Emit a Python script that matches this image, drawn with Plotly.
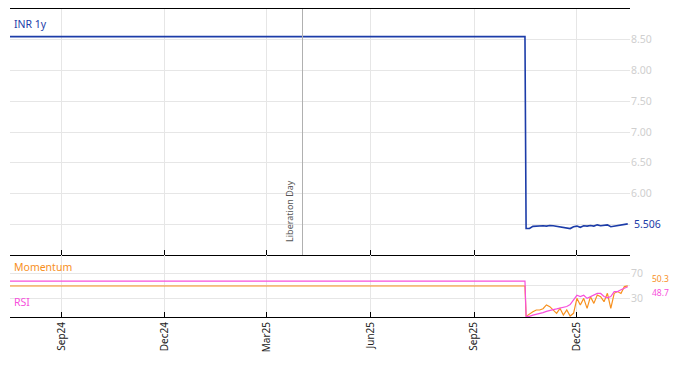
import plotly.graph_objects as go
from plotly.subplots import make_subplots
import pandas as pd

# ---- data ----
flat_dates = ["2024-07-17", "2025-10-16"]
inr_flat = [8.55, 8.55]
rsi_flat = [58, 58]
mom_flat = [50, 50]

post_dates = [d.strftime("%Y-%m-%d") for d in pd.date_range("2025-10-17", periods=31, freq="3D")]
inr_post = [5.43, 5.43, 5.465, 5.47, 5.47, 5.475, 5.47, 5.48, 5.475, 5.465, 5.46,
            5.455, 5.44, 5.43, 5.46, 5.47, 5.45, 5.475, 5.47, 5.48, 5.47, 5.49,
            5.475, 5.485, 5.49, 5.46, 5.47, 5.48, 5.485, 5.495, 5.506]
rsi_post = [1, 1, 3, 4, 6, 7, 9, 11, 12, 13, 14, 16, 17, 20, 27, 35, 33, 35, 30, 33,
            36, 38, 38, 33, 31, 33, 41, 41, 44, 46, 48.7]
mom_post = [1, 5, 8.6, 11.3, 11.3, 13.4, 19.4, 16.7, 11.3, 5.9, 14, 3.2, 11.3, 1.6,
            5.9, 30, 19.4, 30, 14, 32.8, 22, 35.5, 32.8, 24.7, 38.2, 14, 38.2, 41,
            38, 49, 50.3]

dates = flat_dates + post_dates
inr = inr_flat + inr_post
rsi = rsi_flat + rsi_post
mom = mom_flat + mom_post

event_date = "2025-04-02"
event_label = "Liberation Day"
main_ticks = [5.5, 6.0, 6.5, 7.0, 7.5, 8.0, 8.5]
main_ticktext = ["", "6.00", "6.50", "7.00", "7.50", "8.00", "8.50"]
sub_ticks = [30, 50, 70]
sub_ticktext = ["30", "", "70"]
x_ticks = ["2024-09-01", "2024-12-01", "2025-03-01", "2025-06-01", "2025-09-01", "2025-12-01"]

BLUE = "#1c3ca8"
ORANGE = "#f7901e"
PINK = "#f74fdc"
GRID = "#e6e6e6"
TICKC = "#cfcfcf"
FONT = "Noto Sans"

fig = make_subplots(rows=2, cols=1, shared_xaxes=True, vertical_spacing=0,
                    row_heights=[0.7987, 0.2013])

fig.add_trace(go.Scatter(x=dates, y=inr, mode="lines", line=dict(color=BLUE, width=1.6),
                         showlegend=False, hoverinfo="skip"), row=1, col=1)
fig.add_trace(go.Scatter(x=dates, y=mom, mode="lines", line=dict(color=ORANGE, width=1.2),
                         showlegend=False, hoverinfo="skip"), row=2, col=1)
fig.add_trace(go.Scatter(x=dates, y=rsi, mode="lines", line=dict(color=PINK, width=1.2),
                         showlegend=False, hoverinfo="skip"), row=2, col=1)

xr = ["2024-07-17", "2026-01-17"]
common_x = dict(range=xr, tickvals=x_ticks, showgrid=True, gridcolor=GRID, gridwidth=1,
                ticks="inside", ticklen=5, tickcolor="black", zeroline=False,
                showline=True, linecolor="black", linewidth=1)
fig.update_xaxes(**common_x, mirror=True, showticklabels=False, row=1, col=1)
fig.update_xaxes(**common_x, showticklabels=True, tickformat="%b%y", tickangle=-90,
                 tickfont=dict(family=FONT, size=10, color="#222"), row=2, col=1)

fig.update_yaxes(range=[5.0, 9.0], side="right", tickvals=main_ticks, ticktext=main_ticktext,
                 showgrid=True, gridcolor=GRID, zeroline=False, showline=False,
                 tickfont=dict(family=FONT, size=10.5, color=TICKC), ticks="", row=1, col=1)
fig.update_yaxes(range=[0, 100], side="right", tickvals=sub_ticks, ticktext=sub_ticktext,
                 showgrid=True, gridcolor=GRID, zeroline=False, showline=False,
                 tickfont=dict(family=FONT, size=10.5, color=TICKC), ticks="", row=2, col=1)

# event line
fig.add_shape(type="line", xref="x", yref="y domain", x0=event_date, x1=event_date,
              y0=0, y1=1, line=dict(color="#b0b0b0", width=1))
fig.add_annotation(x=event_date, xref="x", yref="y", y=5.18, text=event_label, textangle=-90,
                   showarrow=False, xanchor="right", yanchor="bottom", xshift=-4,
                   font=dict(family=FONT, size=9, color="#555"))

# panel labels
fig.add_annotation(xref="paper", yref="paper", x=0.003, y=1 - 6 / 308, text="INR 1y",
                   showarrow=False, xanchor="left", yanchor="top",
                   font=dict(family=FONT, size=10.5, color=BLUE))
fig.add_annotation(xref="paper", yref="paper", x=0.003, y=0.2013 - 3 / 308, text="Momentum",
                   showarrow=False, xanchor="left", yanchor="top",
                   font=dict(family=FONT, size=10.5, color=ORANGE))
fig.add_annotation(xref="paper", yref="paper", x=0.003, y=6 / 308, text="RSI",
                   showarrow=False, xanchor="left", yanchor="bottom",
                   font=dict(family=FONT, size=10.5, color=PINK))

# last value labels
fig.add_annotation(xref="paper", x=1.0, xanchor="left", xshift=20, yref="y2", y=mom[-1],
                   yshift=7, text=f"{mom[-1]:.1f}", showarrow=False,
                   font=dict(family=FONT, size=8.5, color=ORANGE))
fig.add_annotation(xref="paper", x=1.0, xanchor="left", xshift=20, yref="y2", y=rsi[-1],
                   yshift=-6, text=f"{rsi[-1]:.1f}", showarrow=False,
                   font=dict(family=FONT, size=8.5, color=PINK))
fig.add_annotation(xref="paper", x=1.0, xanchor="left", xshift=2, yref="y", y=inr[-1],
                   text=f"{inr[-1]:.3f}", showarrow=False,
                   font=dict(family=FONT, size=10.5, color=BLUE))

fig.update_layout(width=674, height=366, margin=dict(l=10, r=44, t=9, b=49),
                  paper_bgcolor="white", plot_bgcolor="white",
                  font=dict(family=FONT))

fig.write_html("out.html")
